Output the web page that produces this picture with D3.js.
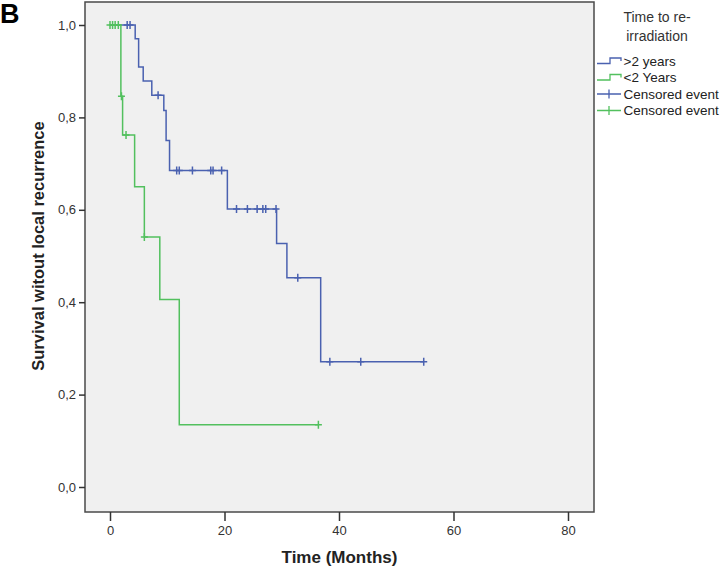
<!DOCTYPE html>
<html><head><meta charset="utf-8">
<script src="https://cdn.jsdelivr.net/npm/d3@7"></script>
<style>
html,body{margin:0;padding:0;background:#fff;}
text{font-family:Arial,"Liberation Sans",sans-serif;}
</style></head>
<body>
<svg id="chart" width="720" height="570"></svg>
<script>
// ---- data ----
const xTicks = [0, 20, 40, 60, 80];
const yTicks = [0, 0.2, 0.4, 0.6, 0.8, 1.0];
const seriesNames = [">2 years", "<2 Years"];
const legendTitle = ["Time to re-", "irradiation"];
// >2 years : step times and survival after each step
const blueTimes = [0, 4.4, 5.0, 5.8, 7.3, 9.4, 9.8, 10.4, 20.5, 29.1, 30.9, 36.8];
const blueSurv  = [1.0, 0.970, 0.909, 0.879, 0.848, 0.815, 0.750, 0.685, 0.602, 0.527, 0.453, 0.271];
const blueEnd = 54.8;
const blueCensored = [3.0, 3.5, 8.4, 11.65, 12.1, 14.4, 17.6, 18.0, 19.5, 22.1, 24.0, 25.7, 26.7, 27.2, 29.0, 32.8, 38.4, 43.8, 54.8];
// <2 Years
const greenTimes = [0, 1.9, 2.2, 4.3, 6.0, 8.7, 12.1];
const greenSurv  = [1.0, 0.846, 0.762, 0.650, 0.541, 0.406, 0.135];
const greenEnd = 36.4;
const greenCensored = [0, 0.45, 0.9, 1.45, 2.0, 2.8, 6.0, 36.4];

const blue = "#4a61b0", green = "#52c05e";

const svg = d3.select("#chart");
const L = 85, T = 2, R = 594, B = 512;
const x = d3.scaleLinear().domain([0, 80]).range([110, 568]);
const y = d3.scaleLinear().domain([0, 1]).range([487, 25]);

// panel letter
svg.append("text").attr("x", 0).attr("y", 23).attr("font-size", 27).attr("font-weight", "bold").text("B");

// frame
svg.append("rect").attr("x", L).attr("y", T).attr("width", R - L).attr("height", B - T)
  .attr("fill", "#f0f0f0").attr("stroke", "#4a4a4a").attr("stroke-width", 1.5);

// axes
const yAxis = d3.axisLeft(y).tickValues(yTicks).tickSize(6).tickPadding(3)
  .tickFormat(d => d3.format(".1f")(d).replace(".", ","));
const gy = svg.append("g").attr("transform", `translate(${L},0)`).call(yAxis);
const xAxis = d3.axisBottom(x).tickValues(xTicks).tickSize(9).tickPadding(5);
const gx = svg.append("g").attr("transform", `translate(0,${B})`).call(xAxis);
[gx, gy].forEach(g => {
  g.select(".domain").remove();
  g.selectAll(".tick line").attr("stroke", "#333").attr("stroke-width", 1.5);
  g.selectAll(".tick text").attr("font-size", 13).attr("fill", "#333")
    .attr("font-family", "Arial, 'Liberation Sans', sans-serif");
});

// axis titles
svg.append("text").attr("x", (L + R) / 2).attr("y", 563).attr("text-anchor", "middle")
  .attr("font-size", 17).attr("font-weight", "bold").attr("fill", "#222").text("Time (Months)");
svg.append("text").attr("transform", "translate(44,246) rotate(-90)").attr("text-anchor", "middle")
  .attr("font-size", 16.5).attr("font-weight", "bold").attr("fill", "#222").text("Survival witout local recurrence");

// curves
function stepPoints(times, surv, end) {
  const pts = times.map((t, i) => [t, surv[i]]);
  pts.push([end, surv[surv.length - 1]]);
  return pts;
}
function survAt(times, surv, t) {
  let v = surv[0];
  for (let i = 0; i < times.length; i++) if (times[i] <= t) v = surv[i];
  return v;
}
const line = d3.line().x(d => x(d[0])).y(d => y(d[1])).curve(d3.curveStepAfter);
const groups = [
  {times: blueTimes, surv: blueSurv, end: blueEnd, cens: blueCensored, color: blue},
  {times: greenTimes, surv: greenSurv, end: greenEnd, cens: greenCensored, color: green}
];
groups.forEach(g => {
  svg.append("path").datum(stepPoints(g.times, g.surv, g.end)).attr("d", line)
    .attr("fill", "none").attr("stroke", g.color).attr("stroke-width", 1.5);
  svg.append("g").selectAll("path").data(g.cens).join("path")
    .attr("d", t => {
      const cx = x(t), cy = y(survAt(g.times, g.surv, t));
      return `M${cx},${cy - 4}V${cy + 4}M${cx - 3.5},${cy}H${cx + 3.5}`;
    })
    .attr("stroke", g.color).attr("stroke-width", 1.5);
});

// legend
const lg = svg.append("g");
legendTitle.forEach((s, i) => {
  lg.append("text").attr("x", 657).attr("y", 22 + i * 19).attr("text-anchor", "middle")
    .attr("font-size", 14).attr("fill", "#333").text(s);
});
const items = [
  {label: seriesNames[0], color: blue, type: "step"},
  {label: seriesNames[1], color: green, type: "step"},
  {label: "Censored event", color: blue, type: "cens"},
  {label: "Censored event", color: green, type: "cens"}
];
items.forEach((it, i) => {
  const cy = 61 + i * 16.5;
  if (it.type === "step") {
    lg.append("path").attr("d", `M597,${cy + 2.5}H610V${cy - 3}H621V${cy}`)
      .attr("fill", "none").attr("stroke", it.color).attr("stroke-width", 1.3);
  } else {
    lg.append("path").attr("d", `M597,${cy}H621M609,${cy - 4.5}V${cy + 4.5}`)
      .attr("fill", "none").attr("stroke", it.color).attr("stroke-width", 1.3);
  }
  lg.append("text").attr("x", 623.5).attr("y", cy + 4.5).attr("font-size", 13.5).attr("fill", "#222").text(it.label);
});
</script>
</body></html>
